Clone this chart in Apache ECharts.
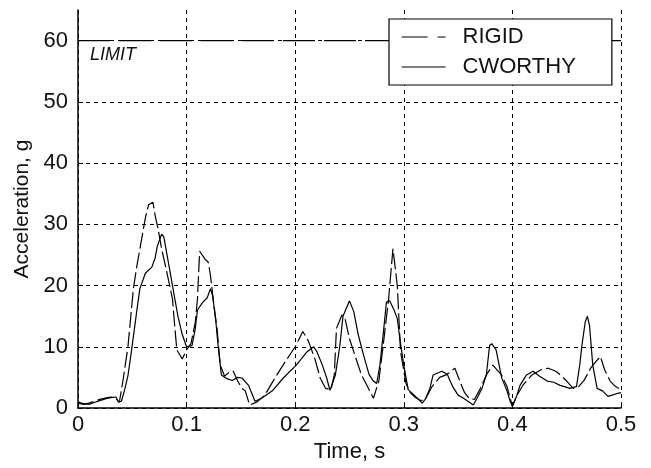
<!DOCTYPE html>
<html>
<head>
<meta charset="utf-8">
<script src="https://cdn.jsdelivr.net/npm/echarts@6/dist/echarts.min.js"></script>
<style>
  html, body { margin: 0; padding: 0; background: #fff; }
  #main { width: 651px; height: 468px; }
</style>
</head>
<body>
<div id="main"></div>
<script>
// time (s) and acceleration (g)
var rigidT = [0, .005, .01, .015, .02, .025, .03, .035, .038, .041, .046, .051, .054, .059, .062, .065, .069, .071, .074, .077,
    .082, .087, .089, .091, .096, .1, .104, .108, .11, .112, .117, .12, .122, .125, .128, .131, .135, .139, .143, .147,
    .151, .154, .158, .165, .172, .181, .191, .2, .207, .212, .218, .223, .228, .233, .236, .238, .243, .246, .25, .255,
    .261, .266, .272, .277, .281, .286, .29, .294, .297, .302, .306, .31, .316, .32, .326, .333, .34, .347, .352, .356,
    .36, .365, .37, .376, .382, .386, .39, .395, .4, .404, .41, .418, .426, .433, .44, .444, .45, .456, .461, .466,
    .472, .477, .481, .485, .49, .495, .5];
var rigidG = [0.8, 0.6, 0.8, 1.1, 1.4, 1.6, 1.8, 1.6, 0.9, 4, 10, 19.5, 23, 28, 31, 33.2, 33.6, 31.5, 29, 26,
    22, 17.8, 13.5, 9.5, 8, 9.5, 10.5, 14, 17.8, 25.6, 24.3, 23.8, 21.6, 17, 13, 7, 5.2, 5.8, 6, 4.4,
    3.2, 2.8, 0.5, 1, 2.1, 4.8, 7.6, 10, 12.5, 11, 8.1, 4.9, 3.2, 3, 5.4, 13, 15.2, 14.5, 11.3, 8.6,
    5.4, 3.7, 1.6, 4.4, 10.2, 17.8, 26, 20, 9.2, 4, 2.5, 1.8, 1.2, 1.5, 3.5, 5, 5.5, 6.5, 4.2, 2.5,
    1.6, 1.4, 3, 5.4, 7, 6.2, 5.4, 3.5, 0.3, 2, 3.8, 5.4, 6.2, 6.5, 6, 5.4, 4.4, 3.2, 3.5, 4.5,
    6.5, 7.6, 8.4, 6.2, 4.4, 3.5, 3];

var cworthyT = [0, .005, .01, .015, .02, .025, .03, .035, .037, .04, .043, .046, .049, .052, .055, .057, .062, .068, .071, .073,
    .077, .079, .083, .087, .092, .096, .1, .105, .108, .11, .115, .119, .122, .124, .127, .129, .132, .137, .142, .147,
    .151, .157, .163, .169, .179, .189, .201, .211, .217, .22, .225, .229, .232, .237, .241, .244, .25, .254, .258, .263,
    .268, .272, .275, .278, .281, .284, .287, .291, .294, .297, .3, .304, .31, .317, .32, .324, .327, .335, .34, .345,
    .35, .355, .359, .364, .368, .372, .376, .379, .381, .385, .39, .395, .398, .4, .404, .407, .413, .419, .425, .432,
    .438, .444, .453, .459, .462, .464, .467, .469, .471, .474, .478, .483, .488, .492, .497, .5];
var cworthyG = [1, 0.7, 0.6, 0.9, 1.2, 1.5, 1.7, 1.8, 1, 1.1, 3, 5.3, 9, 13, 17, 19.5, 22, 23, 24.5, 26.4,
    28.4, 28, 24, 20, 15, 12, 10, 10.2, 13, 16, 17.3, 18, 19.5, 18.3, 14, 10.2, 5.4, 4.8, 4.5, 5,
    4.9, 3.7, 1.1, 1.6, 2.8, 4.9, 7, 9.2, 10, 9.2, 7, 4.9, 2.9, 5.4, 10, 15, 17.5, 15.7, 12, 8.6,
    5.5, 4.4, 4, 7, 12, 17.3, 17.5, 16, 14.6, 10.5, 7, 3, 2, 0.8, 1.5, 3.2, 5.4, 6, 5.5, 3.5,
    2.1, 1.6, 1.1, 0.5, 1.8, 3.2, 5.4, 10.2, 10.5, 9.5, 5, 2.8, 1.1, 0.3, 2, 3.7, 5.4, 6, 5.2, 4.4,
    4.2, 3.7, 3.2, 3.5, 7, 10.2, 14, 15, 13.5, 7, 3.2, 2.8, 1.9, 2.1, 2.4, 2.5];

var limitT = [0, 0.5];
var limitG = [60, 60];

var xTicks = [0, 0.1, 0.2, 0.3, 0.4, 0.5];
var yTicks = [0, 10, 20, 30, 40, 50, 60];

function pairs(t, g) {
    return t.map(function (v, i) { return [v, g[i]]; });
}

var font = 'Liberation Sans, Arial, sans-serif';
var myChart = echarts.init(document.getElementById('main'));

var option = {
    animation: false,
    backgroundColor: '#fff',
    grid: {
        left: 78,
        right: 30,
        top: 10,
        bottom: 58
    },
    legend: {
        left: 389,
        top: 19,
        orient: 'vertical',
        backgroundColor: '#fff',
        borderColor: '#000',
        borderWidth: 1.2,
        borderRadius: 0,
        padding: [7, 36, 7, 12],
        itemGap: 8,
        itemWidth: 44,
        itemHeight: 14,
        itemStyle: { color: 'rgba(0,0,0,0)', borderColor: 'rgba(0,0,0,0)', borderWidth: 0 },
        textStyle: {
            fontFamily: font,
            fontSize: 22,
            color: '#111',
            padding: [0, 0, 0, 12]
        },
        data: [
            { name: 'RIGID', lineStyle: { type: [26, 10], width: 1.2, color: '#000' } },
            { name: 'CWORTHY', lineStyle: { type: 'solid', width: 1.2, color: '#000' } }
        ]
    },
    xAxis: {
        type: 'value',
        min: 0,
        max: 0.5,
        interval: 0.1,
        name: 'Time, s',
        nameLocation: 'middle',
        nameGap: 33,
        nameTextStyle: { fontFamily: font, fontSize: 22, color: '#111' },
        axisLine: { lineStyle: { color: '#000', width: 1.5 } },
        axisTick: { inside: true, length: 5, lineStyle: { color: '#000' } },
        axisLabel: {
            margin: 6,
            fontFamily: font,
            fontSize: 22,
            color: '#111',
            formatter: function (v) {
                var i = xTicks.indexOf(Math.round(v * 10) / 10);
                return i < 0 ? '' : String(xTicks[i]);
            }
        },
        splitLine: {
            show: true,
            lineStyle: { color: '#000', type: [4, 4], width: 1 }
        }
    },
    yAxis: {
        type: 'value',
        min: 0,
        max: 65,
        interval: 10,
        name: 'Acceleration, g',
        nameLocation: 'middle',
        nameGap: 44,
        nameTextStyle: { fontFamily: font, fontSize: 21, color: '#111' },
        axisLine: { show: true, lineStyle: { color: '#000', width: 1.5 } },
        axisTick: { show: true, inside: true, length: 5, lineStyle: { color: '#000' } },
        axisLabel: {
            margin: 10,
            fontFamily: font,
            fontSize: 22,
            color: '#111',
            showMaxLabel: false,
            formatter: function (v) {
                return yTicks.indexOf(v) < 0 ? '' : String(v);
            }
        },
        splitLine: {
            show: true,
            lineStyle: {
                color: ['#000', '#000', '#000', '#000', '#000', '#000', '#000', 'rgba(0,0,0,0)'],
                type: [4, 4],
                width: 1
            }
        }
    },
    series: [{
        name: 'LIMIT',
        type: 'line',
        data: pairs(limitT, limitG),
        symbol: 'none',
        z: 3,
        lineStyle: { color: '#000', width: 1.2, type: [32, 9] },
        markPoint: {
            symbol: 'circle',
            symbolSize: 0,
            silent: true,
            data: [{ coord: [limitT[0], limitG[0]] }],
            label: {
                show: true,
                formatter: 'LIMIT',
                position: [12, 5],
                fontFamily: font,
                fontStyle: 'italic',
                fontSize: 18,
                color: '#111'
            }
        }
    }, {
        name: 'RIGID',
        type: 'line',
        data: pairs(rigidT, rigidG),
        symbol: 'none',
        z: 4,
        lineStyle: { color: '#000', width: 1.2, type: [16, 4] }
    }, {
        name: 'CWORTHY',
        type: 'line',
        data: pairs(cworthyT, cworthyG),
        symbol: 'none',
        z: 4,
        lineStyle: { color: '#000', width: 1.2 }
    }]
};
myChart.setOption(option);
</script>
</body>
</html>
